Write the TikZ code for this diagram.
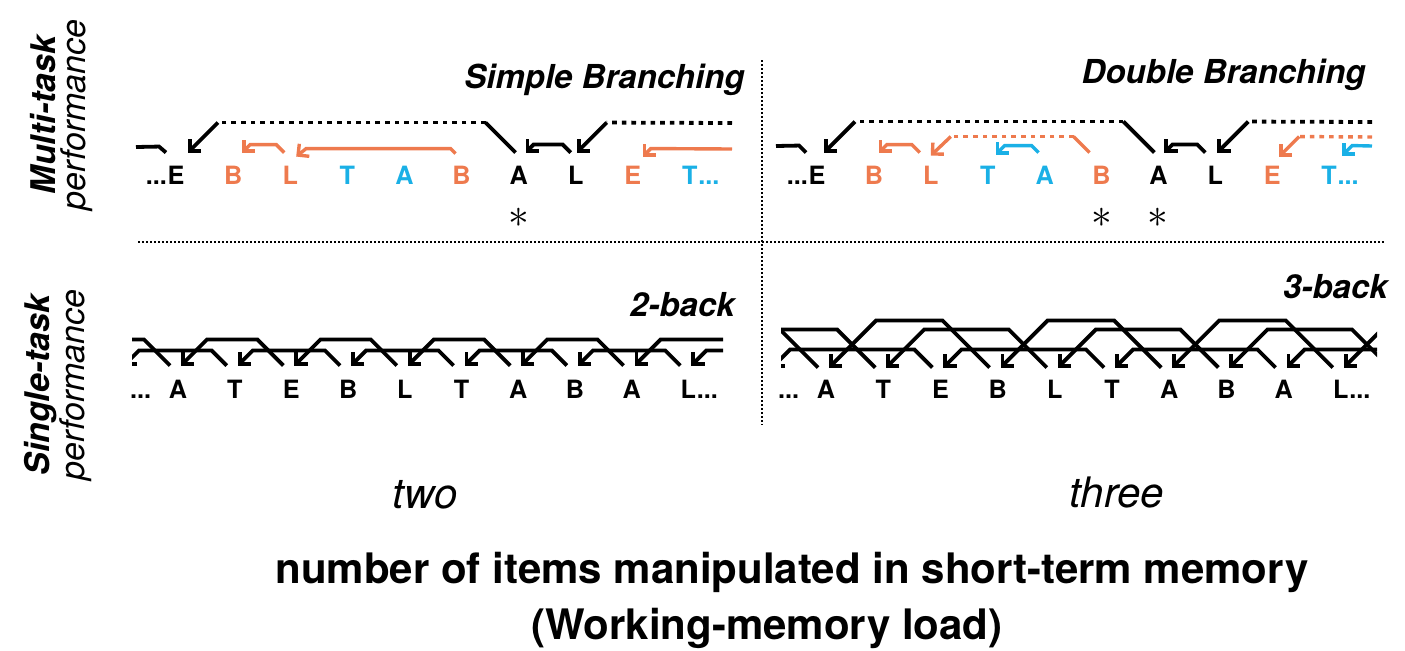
\documentclass[tikz,border=0pt]{standalone}
\usepackage{fontspec}
\setmainfont{TeX Gyre Heros}
\usepackage{tikz}
\usetikzlibrary{arrows.meta,calc}
\definecolor{linkorange}{HTML}{EE7A4E}
\definecolor{linkblue}{HTML}{1AB0E6}

\tikzset{
  letter/.style={font=\fontsize{12.6}{12.6}\selectfont\bfseries, inner sep=0pt, text height=9.05pt, text depth=0pt},
  head/.style={font=\fontsize{16.5}{16.5}\selectfont\bfseries\itshape, inner sep=0pt},
  side/.style={font=\fontsize{17}{15}\selectfont\itshape, rotate=90, align=center, inner sep=0pt},
  load/.style={font=\fontsize{21}{21}\selectfont\itshape, inner sep=0pt},
  caption/.style={font=\fontsize{21}{21}\selectfont\bfseries, inner sep=0pt},
  asterisk/.style={font=\fontsize{20}{20}\selectfont, inner sep=0pt},
  wire/.style={line width=1.9pt, line join=miter},
  owire/.style={wire, line width=1.7pt, linkorange},
  bwire/.style={wire, line width=1.7pt, linkblue},
  tip/.style={-{Straight Barb[length=4pt,width=8pt,sharp]}},
  dotline/.style={dash pattern=on 2.3pt off 2.5pt},
  divider/.style={line width=0.9pt, dash pattern=on 0.9pt off 1.1pt},
}
% n-back link: from, to, rise, gap above the letters
\newcommand{\backlink}[4]{%
  \draw[wire,tip] ($(#1.north)+(-8,-#4)$) -- ++(-#3,-#3) -- ($(#2.north)+(3+#3,-#4-#3)$) -- ($(#2.north)+(3,-#4)$);}

\begin{document}
\begin{tikzpicture}[x=0.5pt, y=-0.5pt]
\useasboundingbox (0,0) rectangle (1405,650);

% headings
\node[side] (multi) at (62,115) {{\bfseries Multi-task}\\performance};
\node[side] (single) at (58,385) {{\bfseries Single-task}\\performance};
\node[head, anchor=base east] (simple) at (745,88) {Simple Branching};
\node[head, anchor=base east] (double) at (1366,83) {Double Branching};
\node[head, anchor=base east] (twoback) at (735,316) {2-back};
\node[head, anchor=base east] (threeback) at (1388,298) {3-back};

% dividers
\coordinate (vtop) at (762,60);
\coordinate (vbot) at (762,425);
\coordinate (hleft) at (138,242);
\coordinate (hright) at (1385,242);
\draw[divider] (vtop) -- (vbot);
\draw[divider] (hleft) -- (hright);

% simple branching
\foreach \ch/\col [count=\i from 0] in {E/black,B/linkorange,L/linkorange,T/linkblue,A/linkblue,B/linkorange,A/black,L/black,E/linkorange,T/linkblue}
  \node[letter, text=\col] (s\i) at ({176+57.1*\i},175) {\ch};
\node[letter, anchor=base east] (sdl) at (s0.base west) {...};
\node[letter, anchor=base west, text=linkblue] (sdr) at (s9.base east) {...};
\node[asterisk] (sast) at (519,218) {$\ast$};
\coordinate (shook) at (136,147);
\coordinate (srtop) at (732,123);
\coordinate (srmid) at (732,149);

\draw[wire] ($(s0.north)+(-10,-13)$) -- ++(-7,-6) -- (shook);
\draw[wire] ($(s6.north)+(-3,-13)$) -- ++(-30,-30) coordinate (s6up);
\draw[wire, dotline] (s6up) -- ($(s0.north)+(42,-43)$) coordinate (s0up);
\draw[wire, tip] (s0up) -- ($(s0.north)+(12,-13)$);
\draw[wire, tip] ($(s7.north)+(-5,-13)$) -- ++(-8,-8) -- ($(s6.north)+(15,-21)$) -- ($(s6.north)+(7,-13)$);
\draw[wire, dotline] (srtop) -- ($(s7.north)+(31,-43)$) coordinate (s7up);
\draw[wire, tip] (s7up) -- ($(s7.north)+(1,-13)$);
\draw[owire, tip] ($(s2.north)+(-6,-13)$) -- ++(-8,-8) -- ($(s1.north)+(17,-21)$) -- ($(s1.north)+(9,-13)$);
\draw[owire, tip] ($(s5.north)+(-6,-12)$) -- ++(-5,-5) -- ($(s2.north)+(16,-17)$) -- ($(s2.north)+(6,-9)$);
\draw[owire, tip] (srmid) -- ($(s8.north)+(18,-17)$) -- ($(s8.north)+(10,-9)$);

% double branching
\foreach \ch/\col [count=\i from 0] in {E/black,B/linkorange,L/linkorange,T/linkblue,A/linkblue,B/linkorange,A/black,L/black,E/linkorange,T/linkblue}
  \node[letter, text=\col] (d\i) at ({817+56.9*\i},175) {\ch};
\node[letter, anchor=base east] (ddl) at (d0.base west) {...};
\node[letter, anchor=base west, text=linkblue] (ddr) at (d9.base east) {...};
\node[asterisk] (dast1) at (1102,218) {$\ast$};
\node[asterisk] (dast2) at (1158,218) {$\ast$};
\coordinate (dhook) at (776,146);
\coordinate (drtop) at (1372,122);
\coordinate (drmid) at (1372,137);
\coordinate (drlow) at (1372,146);

\draw[wire] ($(d0.north)+(-11,-13)$) -- ++(-7,-7) -- (dhook);
\draw[wire] ($(d6.north)+(-4,-13)$) -- ++(-31,-31) coordinate (d6up);
\draw[wire, dotline] (d6up) -- ($(d0.north)+(38,-44)$) coordinate (d0up);
\draw[wire, tip] (d0up) -- ($(d0.north)+(7,-13)$);
\draw[wire, tip] ($(d7.north)+(-10,-13)$) -- ++(-8,-8) -- ($(d6.north)+(14,-21)$) -- ($(d6.north)+(6,-13)$);
\draw[wire, dotline] (drtop) -- ($(d7.north)+(33,-44)$) coordinate (d7up);
\draw[wire, tip] (d7up) -- ($(d7.north)+(2,-13)$);
\draw[owire, tip] ($(d2.north)+(-11,-13)$) -- ++(-8,-8) -- ($(d1.north)+(13,-21)$) -- ($(d1.north)+(5,-13)$);
\draw[owire] ($(d5.north)+(-12,-13)$) -- ++(-16,-16) coordinate (d5up);
\draw[owire, dotline] (d5up) -- ($(d2.north)+(20,-29)$) coordinate (d2up);
\draw[owire, tip] (d2up) -- ($(d2.north)+(0,-10)$);
\draw[owire, dotline] (drmid) -- ($(d8.north)+(27,-29)$) coordinate (d8up);
\draw[owire, tip] (d8up) -- ($(d8.north)+(7,-9)$);
\draw[bwire, tip] ($(d4.north)+(-6,-13)$) -- ++(-7,-7) -- ($(d3.north)+(17,-20)$) -- ($(d3.north)+(8,-11)$);
\draw[bwire, tip] (drlow) -- ($(d9.north)+(23,-20)$) -- ($(d9.north)+(13,-10)$);

% 2-back
\foreach \ch [count=\k from 2] in {A,T,E,B,L,T,A,B,A,L}
  \node[letter] (p\k) at ({178+56.7*(\k-2)},389) {\ch};
\node[letter] (p0) at (65,389) {};
\node[letter] (p1) at (121,389) {};
\node[letter] (p12) at (760,389) {};
\node[letter] (p13) at (817,389) {};
\node[letter, anchor=base east] (pdl) at ($(p2.base west)+(-17,0)$) {...};
\node[letter, anchor=base west] (pdr) at (p11.base east) {...};
\begin{scope}
  \clip (132,300) rectangle (723,376);
  \foreach \k in {2,...,13} {
    \pgfmathtruncatemacro\j{\k-2}
    \pgfmathtruncatemacro\r{mod(\k,2)==0 ? 26 : 15}
    \backlink{p\k}{p\j}{\r}{14}
  }
\end{scope}

% 3-back
\foreach \ch [count=\k from 3] in {A,T,E,B,L,T,A,B,A,L}
  \node[letter] (q\k) at ({826+57.2*(\k-3)},389) {\ch};
\node[letter] (q0) at (654,389) {};
\node[letter] (q1) at (712,389) {};
\node[letter] (q2) at (769,389) {};
\node[letter] (q13) at (1398,389) {};
\node[letter] (q14) at (1455,389) {};
\node[letter] (q15) at (1512,389) {};
\node[letter, anchor=base east] (qdl) at ($(q3.base west)+(-17,0)$) {...};
\node[letter, anchor=base west] (qdr) at (q12.base east) {...};
\begin{scope}
  \clip (781,290) rectangle (1377,376);
  \foreach \k in {3,...,15} {
    \pgfmathtruncatemacro\j{\k-3}
    \pgfmathtruncatemacro\r{mod(\k,3)==0 ? 47 : (mod(\k,3)==1 ? 38 : 18)}
    \backlink{q\k}{q\j}{\r}{12}
  }
\end{scope}

% load axis
\node[load] (two) at (425,495) {two};
\node[load] (three) at (1117,492) {three};
\node[caption] (cap1) at (792,572) {number of items manipulated in short-term memory};
\node[caption] (cap2) at (767,628) {(Working-memory load)};
\end{tikzpicture}
\end{document}
